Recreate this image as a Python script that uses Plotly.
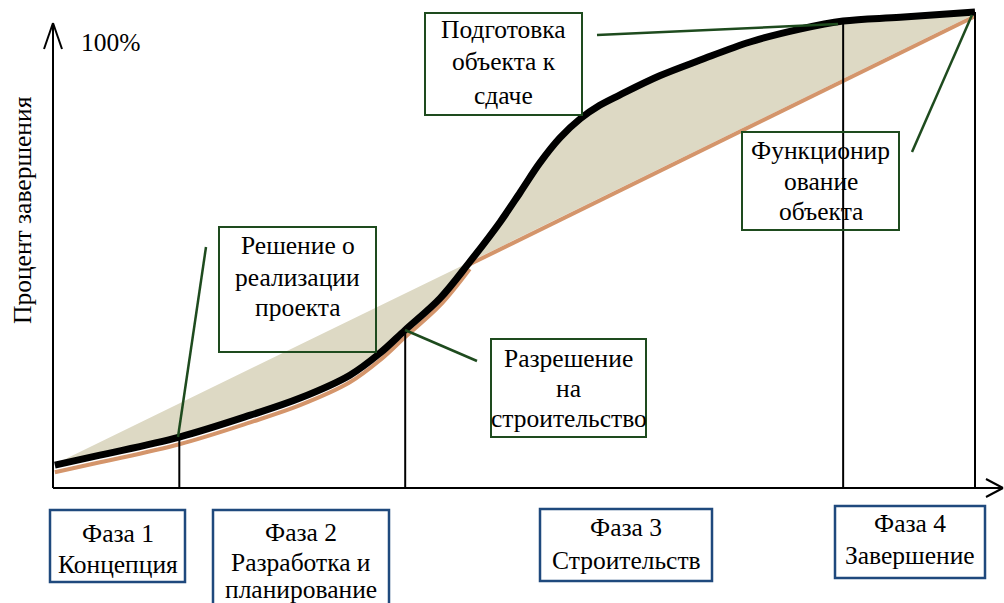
import numpy as np
import plotly.graph_objects as go

# ---------------- data ----------------
# S-curve of project completion (time %, completion %)
S_T = [0.2, 5.1, 13.7, 21.4, 26.8, 32.2, 35.5, 38.2, 42.0, 45.2, 48.5, 50.7, 52.8, 55.0, 57.2, 59.3, 61.5, 65.8, 70.2, 75.6, 81.0, 85.7, 91.9, 100.0]
S_P = [4.8, 6.9, 10.7, 15.3, 18.9, 23.7, 28.4, 33.2, 39.9, 47.5, 55.9, 62.2, 68.3, 73.6, 77.6, 80.4, 82.6, 86.6, 89.9, 93.7, 96.4, 98.1, 98.9, 100.0]
# straight (linear) line; middle point = crossing with S-curve
L_T = [0.4, 45.2, 100.0]
L_P = [5.2, 47.5, 99.6]
CROSS_INDEX = 9            # index of crossing point in S_T
# phase boundaries (time)
PHASE_T = [13.7, 38.2, 85.7, 100.0]
PHASE_LABELS = [["Фаза 1", "Концепция"], ["Фаза 2", "Разработка и", "планирование"],
                ["Фаза 3", "Строительств"], ["Фаза 4", "Завершение"]]
NOTE_LABELS = [["Подготовка", "объекта к", "сдаче"], ["Решение о", "реализации", "проекта"],
               ["Разрешение", "на", "строительство"], ["Функционир", "ование", "объекта"]]
Y_TITLE = "Процент завершения"
TOP_LABEL = "100%"

# ---------------- layout constants (pixels) ----------------
W, H = 1004, 603
X0_PX, X100_PX = 53, 975
Y0_PX, Y100_PX = 488, 12
sx = (X100_PX - X0_PX) / 100.0
sy = (Y0_PX - Y100_PX) / 100.0
x_range = [(0 - X0_PX) / sx, (W - X0_PX) / sx]
y_range = [(Y0_PX - H) / sy, Y0_PX / sy]

def px(x):
    return x / W

def py(y):
    return 1 - y / H

FONT = "Liberation Serif"
FSIZE = 25.5
GREEN = "#1E4B1E"
BLUE = "#1F497D"
FILL = "#DDD9C4"
ORANGE = "#D4956B"
ORANGE_SHIFT_S = 1.5
ORANGE_SHIFT_L = 0.5

fig = go.Figure()

# fill between straight line and S-curve
fig.add_trace(go.Scatter(x=L_T, y=L_P, mode="lines", line=dict(width=0, color=FILL),
                         hoverinfo="skip", showlegend=False))
fig.add_trace(go.Scatter(x=S_T, y=S_P, mode="lines", line=dict(width=0, color=FILL, shape="spline"),
                         fill="tonexty", fillcolor=FILL, hoverinfo="skip", showlegend=False))

# orange outline along lower envelope
fig.add_trace(go.Scatter(x=S_T[:CROSS_INDEX + 1],
                         y=[v - ORANGE_SHIFT_S for v in S_P[:CROSS_INDEX + 1]],
                         mode="lines", line=dict(width=4, color=ORANGE, shape="spline"),
                         hoverinfo="skip", showlegend=False))
fig.add_trace(go.Scatter(x=L_T[1:], y=[v - ORANGE_SHIFT_L for v in L_P[1:]],
                         mode="lines", line=dict(width=4, color=ORANGE),
                         hoverinfo="skip", showlegend=False))

# S-curve
fig.add_trace(go.Scatter(x=S_T, y=S_P, mode="lines", line=dict(width=7, color="black", shape="spline"),
                         hoverinfo="skip", showlegend=False))

# phase boundary verticals
for t in PHASE_T:
    top = float(np.interp(t, S_T, S_P))
    fig.add_trace(go.Scatter(x=[t, t], y=[0, top], mode="lines", line=dict(width=2, color="black"),
                             hoverinfo="skip", showlegend=False))

shapes = []
def pline(x0, y0, x1, y1, color="black", width=2):
    shapes.append(dict(type="line", xref="paper", yref="paper", x0=px(x0), y0=py(y0),
                       x1=px(x1), y1=py(y1), line=dict(color=color, width=width)))

# axes with arrows
pline(53, 488, 53, 23)
pline(44, 49, 53, 23)
pline(62, 49, 53, 23)
pline(53, 488, 1002, 488)
pline(986, 479, 1003, 488)
pline(986, 497, 1003, 488)

# note boxes (green)
note_boxes = [(425, 13, 582, 115), (219, 227, 376, 352), (491, 339, 646, 437), (742, 132, 899, 230)]
note_line_y = [[30, 62, 95], [245, 277, 307], [358, 389, 419], [150, 181, 211]]
leaders = [(597, 35, 838, 24), (206, 247, 178, 437), (405, 330, 477, 361), (912, 152, 972, 15)]
for (x0, y0, x1, y1) in note_boxes:
    shapes.append(dict(type="rect", xref="paper", yref="paper", x0=px(x0), y0=py(y1), x1=px(x1), y1=py(y0),
                       line=dict(color=GREEN, width=2), fillcolor="rgba(0,0,0,0)"))
for (x0, y0, x1, y1) in leaders:
    pline(x0, y0, x1, y1, color=GREEN, width=2.5)

# phase boxes (blue)
phase_boxes = [(50, 510, 185, 582), (213, 510, 389, 612), (540, 509, 712, 581), (835, 506, 985, 578)]
phase_line_y = [[533, 564], [532, 562, 589], [527, 560], [523, 555]]
for (x0, y0, x1, y1) in phase_boxes:
    shapes.append(dict(type="rect", xref="paper", yref="paper", x0=px(x0), y0=py(y1), x1=px(x1), y1=py(y0),
                       line=dict(color=BLUE, width=2.5), fillcolor="rgba(0,0,0,0)"))

annotations = []
def text(x, y, s, angle=0, xanchor="center"):
    annotations.append(dict(xref="paper", yref="paper", x=px(x), y=py(y), text=s, showarrow=False,
                            xanchor=xanchor, yanchor="middle", textangle=angle, borderpad=0,
                            font=dict(family=FONT, size=FSIZE, color="black")))

for (box, ys, lines) in zip(note_boxes, note_line_y, NOTE_LABELS):
    for y, s in zip(ys, lines):
        text((box[0] + box[2]) / 2, y, s)
for (box, ys, lines) in zip(phase_boxes, phase_line_y, PHASE_LABELS):
    for y, s in zip(ys, lines):
        text((box[0] + box[2]) / 2, y, s)
text(23, 210, Y_TITLE, angle=-90)
text(80, 42, TOP_LABEL, xanchor="left")

fig.update_layout(
    width=W, height=H,
    margin=dict(l=0, r=0, t=0, b=0),
    paper_bgcolor="white", plot_bgcolor="white",
    xaxis=dict(range=x_range, visible=False, fixedrange=True),
    yaxis=dict(range=y_range, visible=False, fixedrange=True),
    shapes=shapes, annotations=annotations, showlegend=False,
)

fig.write_html("out.html", config={"displayModeBar": False},
               post_script="document.body.style.margin='0';")
